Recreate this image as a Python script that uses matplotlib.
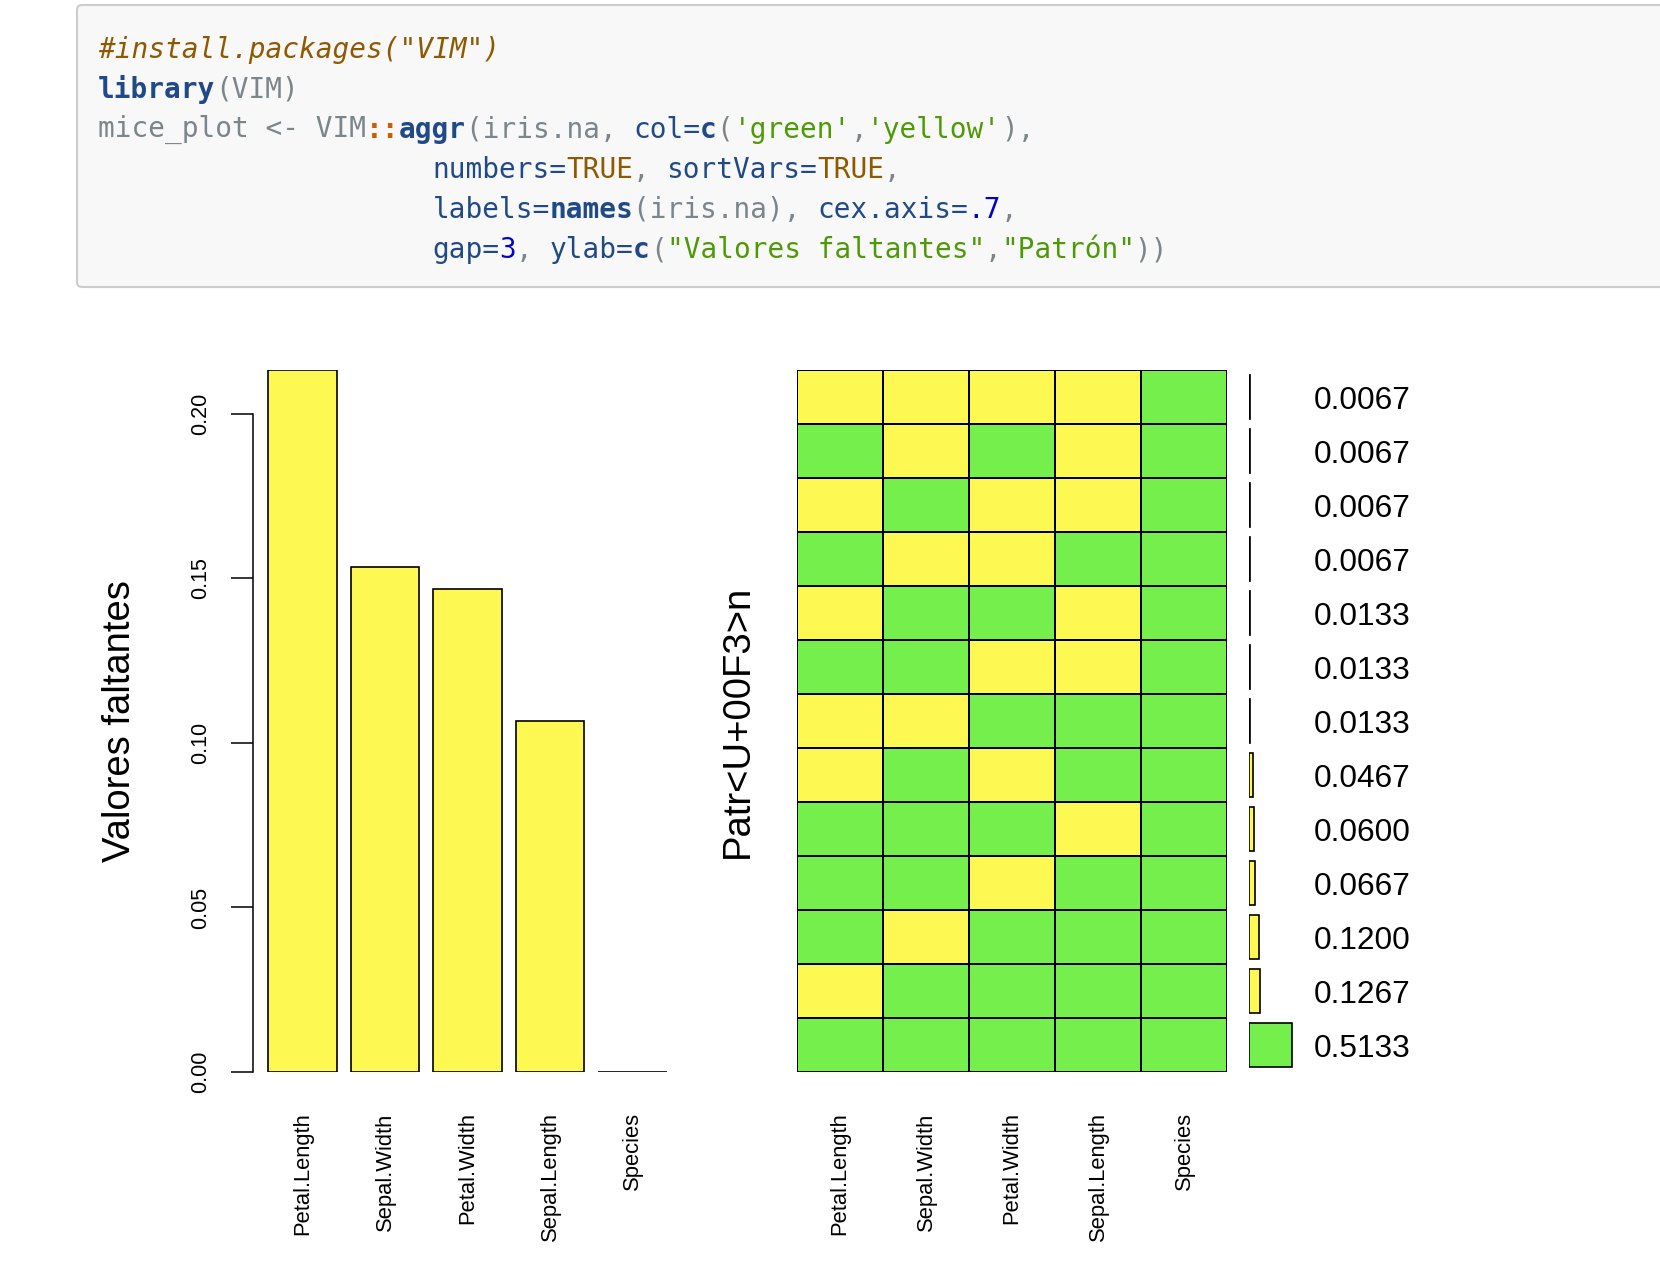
import matplotlib.pyplot as plt
import matplotlib.patches as mpatches
from matplotlib.colors import ListedColormap
import numpy as np

# --- data (iris.na, VIM::aggr output) ---
variables = ['Petal.Length', 'Sepal.Width', 'Petal.Width', 'Sepal.Length', 'Species']
missing_prop = [0.2133, 0.1533, 0.1467, 0.1067, 0.0]

# patterns from top to bottom, 1 = missing (yellow), 0 = observed (green)
patterns = [
    [1, 1, 1, 1, 0],
    [0, 1, 0, 1, 0],
    [1, 0, 1, 1, 0],
    [0, 1, 1, 0, 0],
    [1, 0, 0, 1, 0],
    [0, 0, 1, 1, 0],
    [1, 1, 0, 0, 0],
    [1, 0, 1, 0, 0],
    [0, 0, 0, 1, 0],
    [0, 0, 1, 0, 0],
    [0, 1, 0, 0, 0],
    [1, 0, 0, 0, 0],
    [0, 0, 0, 0, 0],
]
pattern_prop = [0.0067, 0.0067, 0.0067, 0.0067, 0.0133, 0.0133, 0.0133,
                0.0467, 0.0600, 0.0667, 0.1200, 0.1267, 0.5133]

ylabels = ['Valores faltantes', 'Patr<U+00F3>n']

GREEN = '#74ef4b'
YELLOW = '#fef853'

# code chunk shown above the plot: (text, style) tokens per line
code_lines = [
    (0, [('#install.packages("VIM")', 'com')]),
    (0, [('library', 'kw'), ('(VIM)', 'norm')]),
    (0, [('mice_plot <- VIM', 'norm'), ('::', 'op'), ('aggr', 'kw'),
         ('(iris.na, ', 'norm'), ('col=', 'arg'), ('c', 'kw'), ('(', 'norm'),
         ("'green'", 'str'), (',', 'norm'), ("'yellow'", 'str'), ('),', 'norm')]),
    (20, [('numbers=', 'arg'), ('TRUE', 'const'), (', ', 'norm'),
          ('sortVars=', 'arg'), ('TRUE', 'const'), (',', 'norm')]),
    (20, [('labels=', 'arg'), ('names', 'kw'), ('(iris.na), ', 'norm'),
          ('cex.axis=', 'arg'), ('.7', 'num'), (',', 'norm')]),
    (20, [('gap=', 'arg'), ('3', 'num'), (', ', 'norm'), ('ylab=', 'arg'),
          ('c', 'kw'), ('(', 'norm'), ('"Valores faltantes"', 'str'), (',', 'norm'),
          ('"Patrón"', 'str'), ('))', 'norm')]),
]
styles = {
    'com': dict(color='#8f5902', style='italic'),
    'kw': dict(color='#204a87', weight='bold'),
    'arg': dict(color='#204a87'),
    'norm': dict(color='#7b858a'),
    'op': dict(color='#ce5c00', weight='bold'),
    'const': dict(color='#8f5902'),
    'str': dict(color='#4e9a06'),
    'num': dict(color='#0000cf'),
}

W, H = 1660, 1282
plt.rcParams['font.family'] = ['Liberation Sans', 'DejaVu Sans']
fig = plt.figure(figsize=(W / 100, H / 100), dpi=100)

# background layer in pixel coordinates for the code box
bg = fig.add_axes([0, 0, 1, 1], zorder=-1)
bg.set_xlim(0, W)
bg.set_ylim(H, 0)
bg.axis('off')
bg.add_patch(mpatches.FancyBboxPatch((77, 5), 1700, 282,
                                     boxstyle='round,pad=0,rounding_size=5',
                                     facecolor='#f8f8f8', edgecolor='#cccccc',
                                     linewidth=1.5))
char_w = 0.602 * 20 * 100 / 72
for i, (indent, tokens) in enumerate(code_lines):
    col = indent
    y = 49.5 + i * 40.1
    for txt, st in tokens:
        bg.text(98 + col * char_w, y, txt, family='DejaVu Sans Mono', fontsize=20,
                va='center', ha='left', **styles[st])
        col += len(txt)


def px_rect(x0, y0, x1, y1):
    return [x0 / W, 1 - y1 / H, (x1 - x0) / W, (y1 - y0) / H]


# --- left: proportion of missing values per variable ---
ax1 = fig.add_axes(px_rect(253, 370, 682, 1072))
xpos = np.arange(len(variables))
ax1.bar(xpos, missing_prop, width=0.833, color=YELLOW, edgecolor='black',
        linewidth=1.2)
ax1.set_xlim(-0.6, 4.6)
ax1.set_ylim(0, max(missing_prop))
for s in ['top', 'right', 'bottom']:
    ax1.spines[s].set_visible(False)
ax1.spines['left'].set_bounds(0, 0.2)
ax1.spines['left'].set_linewidth(1.1)
ax1.set_yticks([0, 0.05, 0.10, 0.15, 0.20])
ax1.set_yticklabels(['0.00', '0.05', '0.10', '0.15', '0.20'], rotation=90,
                    va='center', fontsize=15.5)
ax1.tick_params(axis='y', length=15.8, width=1.1, pad=14)
ax1.set_xticks(xpos)
ax1.set_xticklabels(variables, rotation=90, fontsize=15.8)
ax1.tick_params(axis='x', length=0, pad=29)
ax1.patch.set_visible(False)

# --- right: missingness patterns ---
ax2 = fig.add_axes(px_rect(797, 370, 1227, 1072))
grid = np.array(patterns)
ax2.pcolormesh(np.arange(6), np.arange(14), grid,
               cmap=ListedColormap([GREEN, YELLOW]), vmin=0, vmax=1,
               edgecolors='black', linewidth=1.3)
ax2.set_xlim(0, 5)
ax2.set_ylim(13, 0)
ax2.set_xticks(np.arange(5) + 0.5)
ax2.set_xticklabels(variables, rotation=90, fontsize=15.8)
ax2.tick_params(axis='x', length=0, pad=29)
ax2.set_yticks([])
for s in ax2.spines.values():
    s.set_visible(False)

# --- proportions of each pattern ---
ax3 = fig.add_axes(px_rect(1249, 370, 1299, 1072))
rows = np.arange(len(pattern_prop)) + 0.5
bar_cols = [GREEN if sum(p) == 0 else YELLOW for p in patterns]
ax3.barh(rows, pattern_prop, height=0.8, color=bar_cols, edgecolor='black',
         linewidth=1.2)
ax3.set_xlim(0, 0.6)
ax3.set_ylim(13, 0)
ax3.axis('off')
for r, p in zip(rows, pattern_prop):
    ax3.text(0.771, r + 0.08, f'{p:.4f}', fontsize=22.8, va='center', ha='left',
             clip_on=False)

fig.text(120 / W, 1 - 721 / H, ylabels[0], rotation=90, fontsize=27.5,
         ha='center', va='center')
fig.text(738 / W, 1 - 721 / H, ylabels[1], rotation=90, fontsize=27.5,
         ha='center', va='center')

fig.savefig('out.png', dpi=100)
